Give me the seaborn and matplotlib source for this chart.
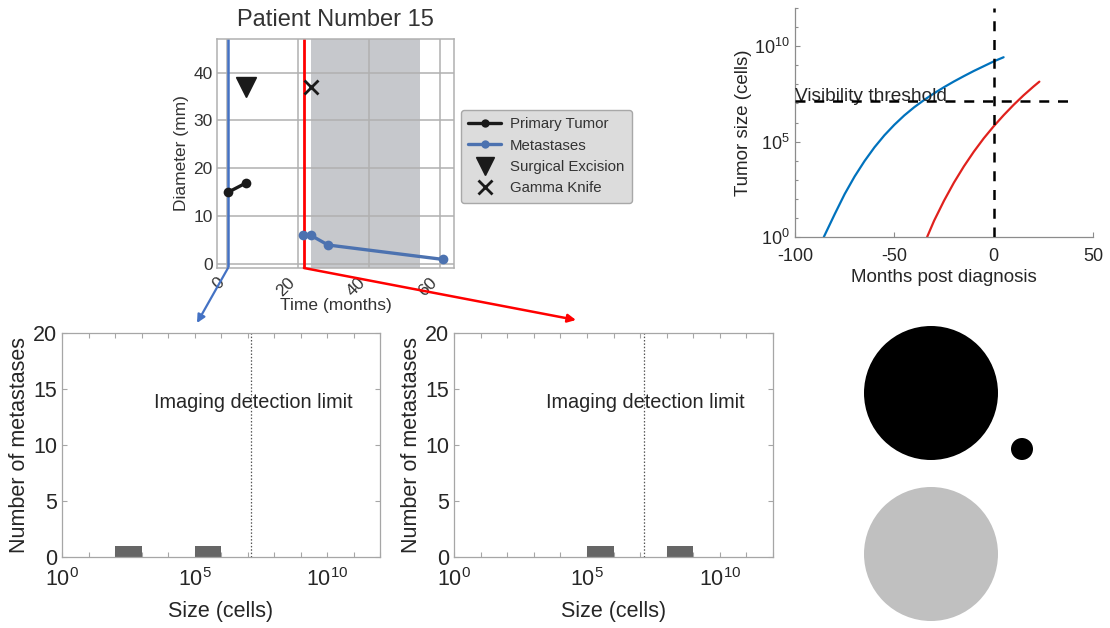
import numpy as np
import matplotlib
matplotlib.use("Agg")
import matplotlib.pyplot as plt
import seaborn as sns
from matplotlib.patches import Circle
from matplotlib.lines import Line2D
from matplotlib.ticker import FixedLocator, NullFormatter, LogFormatterSciNotation

# ---------------- patient timeline (months, diameter in mm) ----------------
primary_months = [0.3, 5.5]
primary_diam = [15.0, 17.0]
met_months = [21.4, 23.7, 28.5, 60.8]
met_diam = [6.0, 6.0, 4.0, 1.0]
excision_month, excision_y = 5.4, 37.0
gamma_month, gamma_y = 23.8, 37.0
diagnosis_month = 0.3
gamma_line_month = 21.7
treatment_window = (23.6, 54.5)
timeline_xticks = [0, 20, 40, 60]
timeline_yticks = [0, 10, 20, 30, 40]

# ---------------- simulated growth (months post diagnosis, log10 cells) ----------------
primary_growth_months = [-85.5, -80, -75, -70, -65, -60, -55, -50, -45, -40, -35,
                         -30, -25, -20, -15, -10, -5, 0, 5]
primary_growth_log = [0.0, 1.2, 2.25, 3.17, 3.98, 4.7, 5.33, 5.88, 6.37, 6.8, 7.18,
                      7.53, 7.85, 8.15, 8.43, 8.7, 8.95, 9.2, 9.42]
met_growth_months = [-33.5, -30, -25, -20, -15, -10, -5, 0, 5, 10, 15, 20, 23]
met_growth_log = [0.0, 0.85, 1.9, 2.85, 3.7, 4.47, 5.17, 5.8, 6.38, 6.92, 7.42, 7.88, 8.14]
visibility_threshold = 10 ** 7.15
threshold_span = (-100, 40)
growth_xticks = [-100, -50, 0, 50]

# ---------------- metastasis size distributions ----------------
size_bins_log = list(range(0, 13))
met_sizes_at_diagnosis = [10 ** 2.5, 10 ** 5.5]
met_sizes_at_gamma = [10 ** 5.5, 10 ** 8.5]
detection_limit = 10 ** 7.15

# ---------------- tumour burden discs ----------------
disc_x = [131, 222, 131]
disc_y = [235, 179, 74]
disc_r = [67, 11, 67]
disc_color = ["black", "black", "#c0c0c0"]

sns.set_theme(style="whitegrid")
plt.rcParams["font.family"] = ["Liberation Sans", "DejaVu Sans"]
plt.rcParams["mathtext.fontset"] = "custom"
plt.rcParams["mathtext.rm"] = "Liberation Sans"
plt.rcParams["mathtext.it"] = "Liberation Sans:italic"
plt.rcParams["axes.unicode_minus"] = False

W, H = 1110, 628
fig = plt.figure(figsize=(W / 100, H / 100), dpi=100)
fig.patch.set_facecolor("white")


def px_axes(x0, y0, x1, y1):
    return fig.add_axes([x0 / W, 1 - y1 / H, (x1 - x0) / W, (y1 - y0) / H])


txt = "#333333"

# ======================= timeline panel =======================
ax1 = px_axes(217, 39, 454, 268)
ax1.set_facecolor("white")
ax1.axvspan(*treatment_window, color="#c6c8cc", lw=0, zorder=0)
ax1.axvline(diagnosis_month, color="#4472c4", lw=1.8, zorder=2)
ax1.axvline(gamma_line_month, color="red", lw=2, zorder=2)
sns.lineplot(x=primary_months, y=primary_diam, ax=ax1, color="#1a1a1a", lw=2.4,
             marker="o", markersize=7, markeredgewidth=0, zorder=3)
sns.lineplot(x=met_months, y=met_diam, ax=ax1, color="#4c72b0", lw=2.4,
             marker="o", markersize=7, markeredgewidth=0, zorder=3)
ax1.plot([excision_month], [excision_y], marker="v", markersize=14,
         color="#1a1a1a", ls="none", zorder=3)
ax1.plot([gamma_month], [gamma_y], marker="x", markersize=10,
         markeredgewidth=2, color="#1a1a1a", ls="none", zorder=3)
ax1.set_xlim(-2.8, 64)
ax1.set_ylim(-0.8, 47)
ax1.set_xticks(timeline_xticks)
ax1.set_yticks(timeline_yticks)
ax1.grid(True, color="#b0b0b0", lw=1.1)
for s in ax1.spines.values():
    s.set_color("#b0b0b0")
    s.set_linewidth(1.1)
ax1.tick_params(labelsize=12.5, colors=txt, length=0)
ax1.tick_params(axis="x", pad=5)
ax1.tick_params(axis="y", pad=3)
plt.setp(ax1.get_xticklabels(), rotation=45, ha="right")
ax1.set_xlabel("Time (months)", fontsize=12.5, color=txt, labelpad=-1)
ax1.set_ylabel("Diameter (mm)", fontsize=12.5, color=txt, labelpad=3)
ax1.set_title("Patient Number 15", fontsize=17, color=txt, pad=9)

handles = [
    Line2D([], [], color="#1a1a1a", lw=2.4, marker="o", markersize=6, markeredgewidth=0),
    Line2D([], [], color="#4c72b0", lw=2.4, marker="o", markersize=6, markeredgewidth=0),
    Line2D([], [], color="#1a1a1a", ls="none", marker="v", markersize=13),
    Line2D([], [], color="#1a1a1a", ls="none", marker="x", markersize=10, markeredgewidth=2),
]
labels = ["Primary Tumor", "Metastases", "Surgical Excision", "Gamma Knife"]
leg = fig.legend(handles, labels, loc="upper left", bbox_to_anchor=(453 / W, 1 - 102 / H),
                 fontsize=10.8, frameon=True, facecolor="#dcdcdc", edgecolor="#a8a8a8",
                 framealpha=1, handlelength=2.2, handletextpad=0.6, labelspacing=0.5,
                 borderpad=0.5, fancybox=True)
for t in leg.get_texts():
    t.set_color(txt)

ax1.annotate("", xy=(197, H - 323), xycoords="figure pixels",
             xytext=(diagnosis_month, -0.8), textcoords="data",
             arrowprops=dict(arrowstyle="-|>", color="#4472c4", lw=1.6,
                             mutation_scale=12, shrinkA=0, shrinkB=0),
             annotation_clip=False)
ax1.annotate("", xy=(576, H - 320), xycoords="figure pixels",
             xytext=(gamma_line_month, -0.8), textcoords="data",
             arrowprops=dict(arrowstyle="-|>", color="red", lw=1.8,
                             mutation_scale=12, shrinkA=0, shrinkB=0),
             annotation_clip=False)

# ======================= growth panel =======================
mat_txt = "#262626"
mat_axis = "#8c8c8c"
ax2 = px_axes(795, 8, 1093, 237)
ax2.set_facecolor("white")
ax2.set_yscale("log")
sns.lineplot(x=primary_growth_months, y=10 ** np.array(primary_growth_log), ax=ax2,
             color="#0072bd", lw=1.6)
sns.lineplot(x=met_growth_months, y=10 ** np.array(met_growth_log), ax=ax2,
             color="#e0211d", lw=1.6)
ax2.plot(list(threshold_span), [visibility_threshold] * 2, color="black", lw=1.8,
         dashes=(4, 3.5), zorder=4)
ax2.axvline(0, color="black", lw=1.8, dashes=(4, 3.5), zorder=4)
ax2.text(threshold_span[0], visibility_threshold, "Visibility threshold",
         fontsize=13.8, color=mat_txt, ha="left", va="baseline", zorder=3)
ax2.set_xlim(-100, 50)
ax2.set_ylim(1, 1e12)
ax2.set_xticks(growth_xticks)
ax2.yaxis.set_major_locator(FixedLocator([1e0, 1e5, 1e10]))
ax2.yaxis.set_major_formatter(LogFormatterSciNotation())
ax2.yaxis.set_minor_locator(FixedLocator([10.0 ** k for k in range(0, 13)]))
ax2.yaxis.set_minor_formatter(NullFormatter())
ax2.grid(False)
for side in ["top", "right"]:
    ax2.spines[side].set_visible(False)
for side in ["left", "bottom"]:
    ax2.spines[side].set_color(mat_axis)
    ax2.spines[side].set_linewidth(0.9)
ax2.tick_params(which="both", direction="in", colors=mat_axis, labelcolor=mat_txt,
                labelsize=13, length=3.5, width=0.8, left=True, bottom=True)
ax2.tick_params(which="minor", length=2.5)
ax2.tick_params(axis="x", pad=8)
ax2.set_xlabel("Months post diagnosis", fontsize=13.5, color=mat_txt, labelpad=3)
ax2.set_ylabel("Tumor size (cells)", fontsize=13.5, color=mat_txt, labelpad=2)

# ======================= size distributions =======================
def size_panel(ax, sizes):
    ax.set_facecolor("white")
    sns.histplot(x=sizes, bins=size_bins_log, log_scale=True, ax=ax,
                 color="#666666", alpha=1, edgecolor="none", linewidth=0)
    ax.axvline(detection_limit, color="#555555", lw=0.9, ls=(0, (1.2, 1.5)))
    ax.text(10 ** 3.47, 13.8, "Imaging detection limit", fontsize=14.3,
            color=mat_txt, ha="left", va="center")
    ax.set_xlim(1, 1e12)
    ax.set_ylim(0, 20)
    ax.xaxis.set_major_locator(FixedLocator([1e0, 1e5, 1e10]))
    ax.xaxis.set_major_formatter(LogFormatterSciNotation())
    ax.xaxis.set_minor_locator(FixedLocator([10.0 ** k for k in range(0, 13)]))
    ax.xaxis.set_minor_formatter(NullFormatter())
    ax.set_yticks([0, 5, 10, 15, 20])
    ax.grid(False)
    for s in ax.spines.values():
        s.set_visible(True)
        s.set_color("#a6a6a6")
        s.set_linewidth(0.9)
    ax.tick_params(which="both", direction="in", colors="#a6a6a6",
                   labelcolor=mat_txt, labelsize=15.5, length=3.5, width=0.8,
                   top=True, right=True, bottom=True, left=True)
    ax.tick_params(axis="x", which="major", pad=8)
    ax.set_xlabel("Size (cells)", fontsize=15.5, color=mat_txt, labelpad=7)
    ax.set_ylabel("Number of metastases", fontsize=15.5, color=mat_txt, labelpad=2)


ax3 = px_axes(62, 333, 380, 557)
size_panel(ax3, met_sizes_at_diagnosis)
ax4 = px_axes(454, 333, 773, 557)
size_panel(ax4, met_sizes_at_gamma)

# ======================= tumour burden discs =======================
ax5 = px_axes(800, 310, 1110, 628)
ax5.set_xlim(0, 310)
ax5.set_ylim(0, 318)
ax5.axis("off")
for x, y, r, c in zip(disc_x, disc_y, disc_r, disc_color):
    ax5.add_patch(Circle((x, y), r, color=c, lw=0))

fig.savefig("out.png", dpi=100, facecolor="white")
